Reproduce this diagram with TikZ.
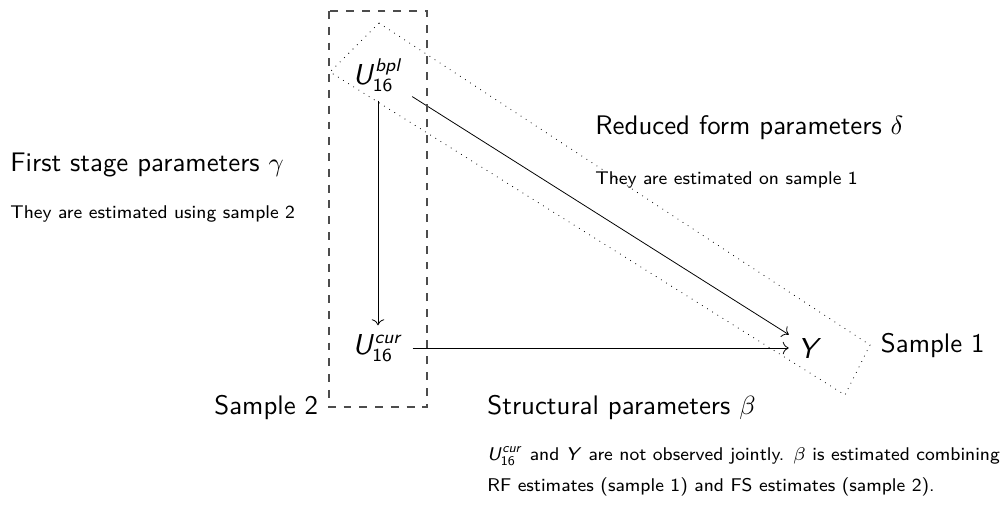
\documentclass[tikz,border=0pt]{standalone}
\usepackage{amsmath}
\usepackage{amssymb}
\usepackage{xcolor}
\usepackage{tikz}
\usetikzlibrary{positioning,arrows.meta}

\DeclareMathAlphabet{\mathsfit}{OT1}{cmss}{m}{sl}
\newcommand{\Ubpl}{$\mathsfit{U}_{\mathsf{16}}^{\mathsfit{bpl}}$}
\newcommand{\Ucur}{$\mathsfit{U}_{\mathsf{16}}^{\mathsfit{cur}}$}

\begin{document}
\begin{tikzpicture}[x=0.38pt, y=-0.38pt, line width=0.3pt,
        var/.style={font=\sffamily\fontsize{10.5}{12}\selectfont},
        big/.style={font=\sffamily\fontsize{10.2}{12}\selectfont, inner sep=0pt},
        note/.style={font=\sffamily\fontsize{7}{8}\selectfont, inner sep=0pt, anchor=west},
        arrow/.style={->},
        sample/.style={dashed, line width=0.4pt, gray!60!black},
        other/.style={dotted}
    ]
    \useasboundingbox (0,0) rectangle (1006,512);

    % Variables
    \node[var] (bpl) at (378,75) {\Ubpl};
    \node[var] (cur) at (378,348) {\Ucur};
    \node[var] (y) at (810,348) {$\mathsfit{Y}$};

    % Arrows
    \draw[arrow] (bpl) -- (cur);
    \draw[arrow] (cur) -- (y);
    \draw[arrow] (bpl) -- (y);

    % Sample 2 box
    \coordinate (s2nw) at (329,11);
    \coordinate (s2se) at (427,407);
    \draw[sample] (s2nw) rectangle (s2se);
    \node[big, anchor=east] (s2) at ([xshift=-4pt]s2nw |- s2se) {Sample 2};

    % Sample 1 box
    \coordinate (s1n) at (379,23);
    \coordinate (s1e) at (870,345);
    \coordinate (s1s) at (845,395);
    \coordinate (s1w) at (330,72);
    \draw[other] (s1n) -- (s1e) -- (s1s) -- (s1w) -- cycle;
    \node[big, anchor=west] (s1) at ([xshift=4pt]s1e) {Sample 1};

    % Parameters
    \node[big, anchor=west] (fs) at (10,165) {First stage parameters $\gamma$};
    \node[note] (fsn) at (10,214) {They are estimated using sample 2};
    \node[big, anchor=west] (rf) at (595,128) {Reduced form parameters $\delta$};
    \node[note] (rfn) at (595,180) {They are estimated on sample 1};
    \node[big, anchor=west] (st) at (487,407) {Structural parameters $\beta$};
    \node[note] (stn1) at (487,456) {\Ucur{} and $\mathsfit{Y}$ are not observed jointly. $\beta$ is estimated combining};
    \node[note] (stn2) at (487,487) {RF estimates (sample 1) and FS estimates (sample 2).};
\end{tikzpicture}
\end{document}
